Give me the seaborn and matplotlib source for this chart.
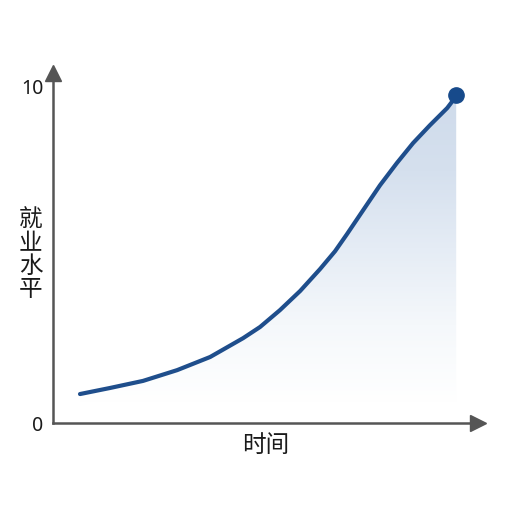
import numpy as np
import pandas as pd
import matplotlib
matplotlib.use("Agg")
import matplotlib.pyplot as plt
from matplotlib.colors import LinearSegmentedColormap
import seaborn as sns

# ---- DATA ----
time_vals = [0, 0.8, 1.68, 2.59, 3.47, 4.35, 4.8, 5.33, 5.87, 6.4,
             6.8, 7.12, 7.55, 8.0, 8.45, 8.88, 9.33, 9.79, 10.03]
level_vals = [0.86, 1.04, 1.25, 1.57, 1.96, 2.52, 2.85, 3.35, 3.92, 4.57,
              5.10, 5.61, 6.32, 7.06, 7.72, 8.31, 8.84, 9.35, 9.70]
y_ticks = [0, 10]
y_tick_labels = ["0", "10"]
x_label = "时间"
y_label = "就\n业\n水\n平"

df = pd.DataFrame({"time": time_vals, "level": level_vals})

sns.set_style("white")
plt.rcParams["font.family"] = ["Noto Sans CJK SC", "DejaVu Sans"]

LINE = "#1f4e8c"
AXIS = "#555555"

fig = plt.figure(figsize=(5.12, 5.12), dpi=100)
ax = fig.add_axes([0.1035, 0.1738, 0.830, 0.6836])

# gradient fill under curve
fill = ax.fill_between(df["time"], df["level"], 0, color="none", lw=0)
cmap = LinearSegmentedColormap.from_list(
    "g", ["#ffffff", "#f5f8fb", "#e5ecf5", "#d5e0ee", "#cfdbeb"])
grad = np.linspace(0, 1, 256).reshape(-1, 1)
img = ax.imshow(grad, cmap=cmap, aspect="auto", origin="lower",
                extent=[0, 10.2, 0.6, 9.8], zorder=1)
img.set_clip_path(fill.get_paths()[0], transform=ax.transData)

sns.lineplot(data=df, x="time", y="level", ax=ax, color=LINE, lw=3.0,
             zorder=3, solid_capstyle="round", solid_joinstyle="round")
ax.plot(time_vals[-1], level_vals[-1] + 0.05, "o", color="#174a8b", ms=11, zorder=4)

ax.set_xlim(-0.72, 10.61)
ax.set_ylim(0, 10.39)

for s in ["top", "right"]:
    ax.spines[s].set_visible(False)
for s in ["left", "bottom"]:
    ax.spines[s].set_color(AXIS)
    ax.spines[s].set_linewidth(1.8)

# arrow heads
ax.plot(1, 0, ">", color=AXIS, ms=11, transform=ax.get_yaxis_transform(), clip_on=False)
ax.plot(-0.72, 1, "^", color=AXIS, ms=11, transform=ax.get_xaxis_transform(), clip_on=False)

ax.set_xticks([])
ax.set_yticks(y_ticks)
ax.set_yticklabels(y_tick_labels, fontsize=14, color="#1a1a1a", family=["Noto Sans", "DejaVu Sans"])
ax.tick_params(axis="y", length=0, pad=7)

ax.set_xlabel(x_label, fontsize=17, color="#1a1a1a", labelpad=8)
ax.set_ylabel(y_label, fontsize=17, color="#1a1a1a", rotation=0,
              va="center", ha="center", linespacing=1.0)
ax.yaxis.set_label_coords(-0.052, 0.48)

fig.savefig("out.png", dpi=100)
